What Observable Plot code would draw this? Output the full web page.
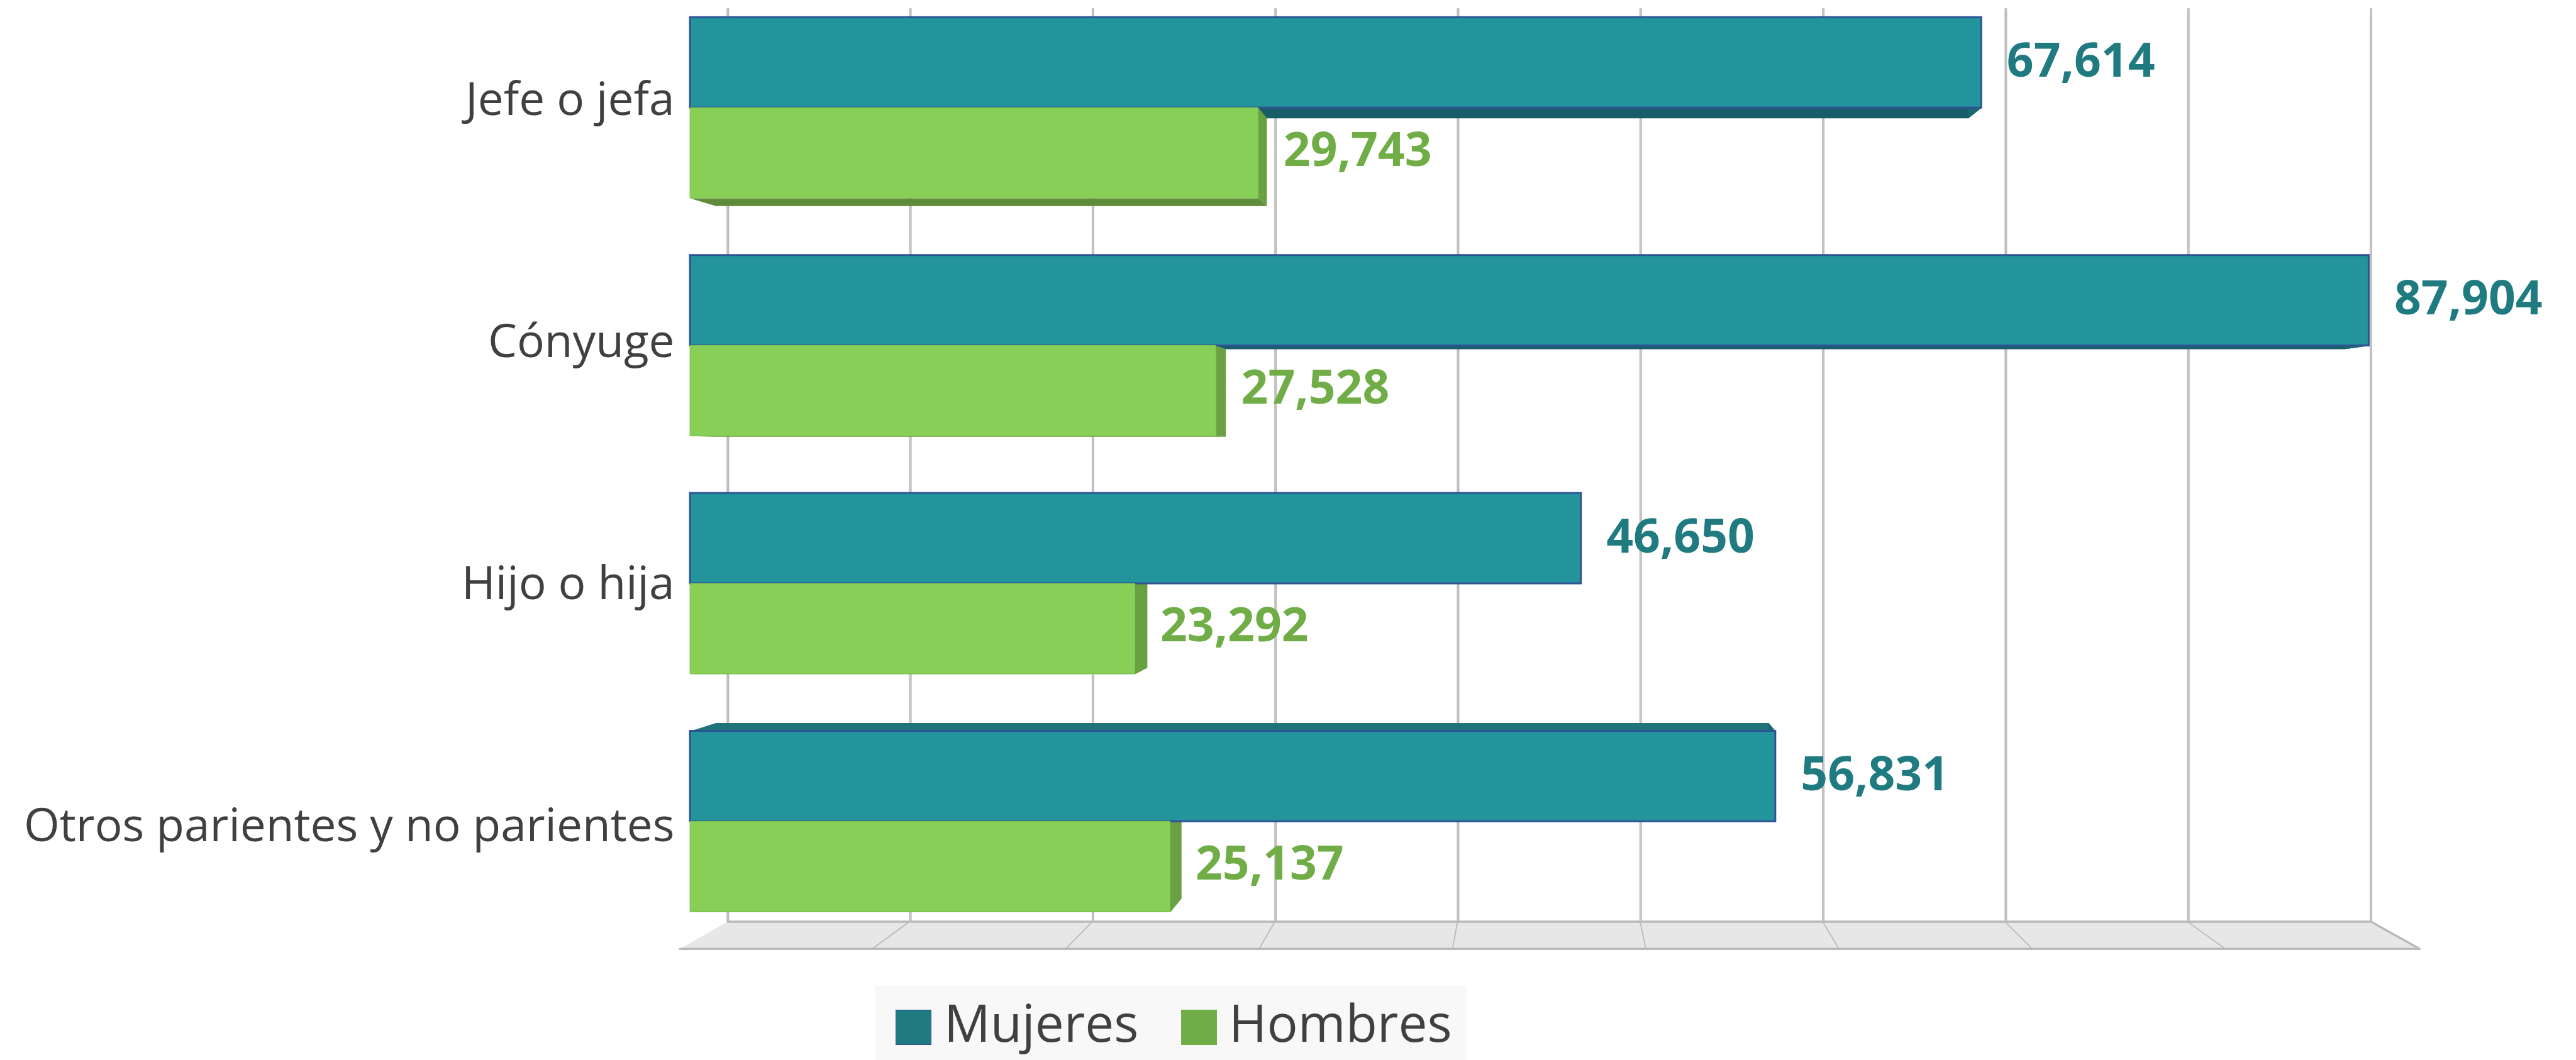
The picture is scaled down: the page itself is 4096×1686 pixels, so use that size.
<!DOCTYPE html>
<html>
<head>
<meta charset="utf-8">
<script src="https://cdn.jsdelivr.net/npm/d3@7"></script>
<script src="https://cdn.jsdelivr.net/npm/@observablehq/plot@0.6"></script>
<style>
  html, body { margin: 0; padding: 0; background: #ffffff; }
  #page { position: relative; width: 4096px; height: 1686px; overflow: hidden; font-family: "Open Sans", sans-serif; }
  #legend { position: absolute; background: #f8f8f8; }
  .sw { position: absolute; box-sizing: border-box; }
  .lt { position: absolute; font-size: 82px; line-height: 82px; color: #404040; white-space: nowrap; }
</style>
</head>
<body>
<div id="page"><div id="plot"></div><div id="legend"></div></div>
<script>
// ---------------- data ----------------
const categories = ["Jefe o jefa", "Cónyuge", "Hijo o hija", "Otros parientes y no parientes"];
const mujeres = [67614, 87904, 46650, 56831];
const hombres = [29743, 27528, 23292, 25137];
const series = ["Mujeres", "Hombres"];
const gridTicks = [0, 10000, 20000, 30000, 40000, 50000, 60000, 70000, 80000, 90000];

// ---------------- styles ----------------
const legendColors = {Mujeres: "#1f7b80", Hombres: "#70ad47"};
const frontColors = {Mujeres: "#23939c", Hombres: "#88cf57"};
const faceColors = {
  Mujeres: {bottom: "#185e69", top: "#1f737a", right: "#1b6870"},
  Hombres: {bottom: "#5e8c3b", top: "#6ea846", right: "#69a042"}
};
const labelColors = {Mujeres: "#1f7b80", Hombres: "#70ad47"};

// ---------------- geometry (scale of reference -> window) ----------------
const S = 4096 / 4189;
const W = 4096;
const H = 1568;                 // svg height; legend below
const Y0 = 175, ROW = 387;      // reference px of first category centre line and row pitch
const xDomain = [0, 90000];
const xRange = [1122 * S, 3917 * S];
const yDomain = [-Y0 / ROW, (H / S - Y0) / ROW];
const yRange = [0, H];

// perspective (3D chart) in data space
const VPX = 44690, VPY = 1.473;
const K_BACK = 0.97, K_WALL = 0.956, K_FLOORFRONT = 1.0122, K_LABEL = 1.0173;
const Y_TOP = -0.5057, Y_FLOOR = 3.51;
const HB = 0.38;  // bar thickness in rows
const persp = (x, y, k) => [VPX + (x - VPX) * k, VPY + (y - VPY) * k];

// ---------------- derived tables ----------------
const rows = categories.flatMap((c, i) => [
  {cat: c, i, serie: series[0], value: mujeres[i], y1: i - HB, y2: i},
  {cat: c, i, serie: series[1], value: hombres[i], y1: i, y2: i + HB}
]);

const facePts = [];
rows.forEach((r, j) => {
  const x0 = 0, x1 = r.value, yt = r.y1, yb = r.y2;
  const quads = {
    bottom: [[x0, yb, 1], [x1, yb, 1], [x1, yb, K_BACK], [x0, yb, K_BACK]],
    top: [[x0, yt, 1], [x1, yt, 1], [x1, yt, K_BACK], [x0, yt, K_BACK]],
    right: [[x1, yt, 1], [x1, yb, 1], [x1, yb, K_BACK], [x1, yt, K_BACK]]
  };
  for (const [name, q] of Object.entries(quads)) {
    q.forEach(([x, y, k]) => {
      const [px, py] = persp(x, y, k);
      facePts.push({id: j + "-" + name, x: px, y: py, color: faceColors[r.serie][name]});
    });
  }
});

const gridLines = gridTicks.map(v => {
  const [xa, ya] = persp(v, Y_TOP, K_WALL);
  const [xb, yb] = persp(v, Y_FLOOR, K_WALL);
  return {v, x1: xa, y1: ya, x2: xb, y2: yb};
});

const floorPts = [];
for (let t = 0; t < gridTicks.length - 1; t++) {
  const a = gridTicks[t], b = gridTicks[t + 1];
  [[a, K_WALL], [b, K_WALL], [b, K_FLOORFRONT], [a, K_FLOORFRONT]].forEach(([v, k]) => {
    const [px, py] = persp(v, Y_FLOOR, k);
    floorPts.push({id: t, x: px, y: py});
  });
}

const catLabels = categories.map((c, i) => ({cat: c, y: persp(0, i + 0.0556, K_LABEL)[1]}));

const fmt = d3.format(",");
const mRows = rows.filter(r => r.serie === series[0]);
const hRows = rows.filter(r => r.serie === series[1]);

// ---------------- plot ----------------
const chart = Plot.plot({
  width: W,
  height: H,
  margin: 0,
  style: {background: "transparent", fontFamily: "'Open Sans', sans-serif", overflow: "visible"},
  x: {domain: xDomain, range: xRange, axis: null},
  y: {domain: yDomain, range: yRange, axis: null},
  color: {type: "identity"},
  marks: [
    // floor tiles
    Plot.line(floorPts, {x: "x", y: "y", z: "id", fill: "#e7e7e7", stroke: "#b9b9b9", strokeWidth: 3.5, strokeLinejoin: "round"}),
    // back wall gridlines
    Plot.link(gridLines, {x1: "x1", y1: "y1", x2: "x2", y2: "y2", stroke: "#b9b9b9", strokeWidth: 4}),
    Plot.link(gridLines, {x1: "x1", y1: "y1", x2: "x2", y2: "y2", stroke: "#cbcbcb", strokeWidth: 1.2}),
    // 3D bar depth faces
    Plot.line(facePts, {x: "x", y: "y", z: "id", fill: "color", stroke: "none"}),
    // bar fronts
    Plot.rect(mRows, {x1: 0, x2: "value", y1: "y1", y2: "y2", fill: frontColors.Mujeres, stroke: "#2e5496", strokeWidth: 3}),
    Plot.rect(hRows, {x1: 0, x2: "value", y1: "y1", y2: "y2", fill: frontColors.Hombres, stroke: "#7fc34f", strokeWidth: 1}),
    // category labels
    Plot.text(catLabels, {x: 0, y: "y", text: "cat", textAnchor: "end", lineAnchor: "bottom", dx: -25,
      fontSize: 73, fill: "#404040", fontFamily: "'Open Sans', sans-serif"}),
    // value labels
    Plot.text(mRows, {x: "value", y: r => (r.y1 + r.y2) / 2, text: r => fmt(r.value), textAnchor: "start", dx: 40, dy: -2,
      fontSize: 75, fontWeight: "bold", fill: labelColors.Mujeres, fontFamily: "'Open Sans', sans-serif"}),
    Plot.text(hRows, {x: "value", y: r => (r.y1 + r.y2) / 2, text: r => fmt(r.value), textAnchor: "start", dx: 40, dy: -4,
      fontSize: 75, fontWeight: "bold", fill: labelColors.Hombres, fontFamily: "'Open Sans', sans-serif"})
  ]
});
document.getElementById("plot").appendChild(chart);

// ---------------- legend (below the svg) ----------------
const legend = document.getElementById("legend");
Object.assign(legend.style, {left: "1392px", top: H + "px", width: "940px", height: (1686 - H) + "px"});
const legendItems = [
  {name: series[0], swX: 1424, txX: 1501, border: "#2e5496"},
  {name: series[1], swX: 1878, txX: 1954, border: legendColors.Hombres}
];
legendItems.forEach(it => {
  const sw = document.createElement("div");
  sw.className = "sw";
  Object.assign(sw.style, {left: (it.swX - 1392) + "px", top: (1605.5 - H) + "px", width: "57px", height: "56px",
    background: legendColors[it.name], border: "1.5px solid " + it.border});
  legend.appendChild(sw);
  const tx = document.createElement("div");
  tx.className = "lt";
  tx.textContent = it.name;
  Object.assign(tx.style, {left: (it.txX - 1392) + "px", top: (1584 - H) + "px"});
  legend.appendChild(tx);
});
</script>
</body>
</html>
